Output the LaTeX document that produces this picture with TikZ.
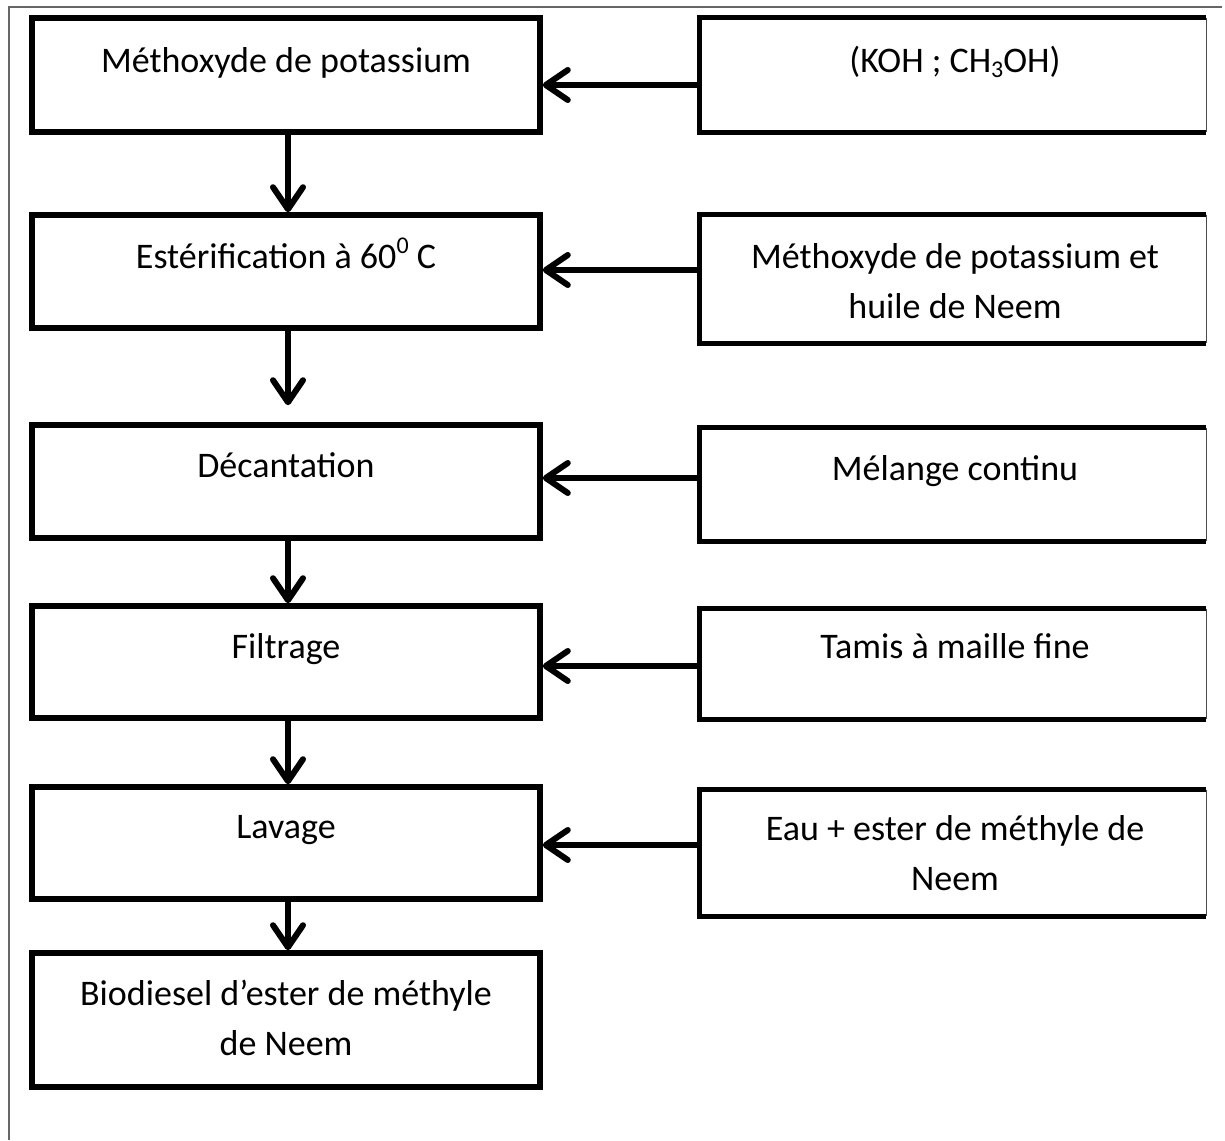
\documentclass[tikz,border=0pt]{standalone}
\usepackage{fontspec}
\setmainfont{Carlito}
\usetikzlibrary{arrows.meta,fit,calc}
\newcommand{\mysub}[1]{\raisebox{-0.3ex}{\fontsize{12}{12}\selectfont #1}}
\newcommand{\mysup}[1]{\raisebox{0.85ex}{\fontsize{12}{12}\selectfont #1}}
\begin{document}
\begin{tikzpicture}[x=0.5pt,y=-0.5pt,
  lbox/.style={draw=black,line width=2.8pt,inner sep=0pt,line join=miter},
  rbox/.style={draw=none,inner sep=0pt},
  thickedge/.style={draw=black,line width=2.8pt,line join=miter},
  thinedge/.style={draw=black!70,line width=0.6pt},
  txt/.style={anchor=base,align=center,font=\fontsize{18}{25}\selectfont,inner sep=0pt},
  arr/.style={line width=3pt,-{Straight Barb[length=11pt,width=15pt,round]}}]
\useasboundingbox (0,0) rectangle (1225,1140);
\fill[white] (0,0) rectangle (1225,1140);
% outer frame
\draw[black!60,line width=0.6pt] (9,1140) -- (9,7) -- (1222,7);
% left boxes
\node[lbox,fit={(32,18)(540,132)}] (L1) {};
\node[lbox,fit={(32,215)(540,328)}] (L2) {};
\node[lbox,fit={(32,425)(540,538)}] (L3) {};
\node[lbox,fit={(32,606)(540,718)}] (L4) {};
\node[lbox,fit={(32,787)(540,899)}] (L5) {};
\node[lbox,fit={(32,953)(540,1087)}] (L6) {};
% right boxes
\node[rbox,fit={(700,18)(1206,132)}] (R1) {};
\node[rbox,fit={(700,215)(1206,343)}] (R2) {};
\node[rbox,fit={(700,428)(1206,541)}] (R3) {};
\node[rbox,fit={(700,609)(1206,719)}] (R4) {};
\node[rbox,fit={(700,790)(1206,916)}] (R5) {};
\foreach \r in {R1,R2,R3,R4,R5}{
  \draw[thickedge] (\r.north east) -- (\r.north west) -- (\r.south west) -- (\r.south east);
  \draw[thinedge] (\r.north east) -- (\r.south east);
}
% texts (base = last line)
\node[txt] (L1t) at (286,72) {Méthoxyde de potassium};
\node[txt] (L2t) at (286,268) {Estérification à 60\mysup{0} C};
\node[txt] (L3t) at (286,477) {Décantation};
\node[txt] (L4t) at (286,658) {Filtrage};
\node[txt] (L5t) at (286,838) {Lavage};
\node[txt] (L6t) at (286,1055) {Biodiesel d’ester de méthyle\\de Neem};
\node[txt] (R1t) at (955,72) {(KOH ; CH\mysub{3}OH)};
\node[txt] (R2t) at (955,318) {Méthoxyde de potassium et\\huile de Neem};
\node[txt] (R3t) at (955,480) {Mélange continu};
\node[txt] (R4t) at (955,658) {Tamis à maille fine};
\node[txt] (R5t) at (955,890) {Eau + ester de méthyle de\\Neem};
% vertical arrows
\coordinate (vx) at (288,0);
\draw[arr] (L1.south -| vx) -- (L2.north -| vx);
\draw[arr,shorten >=8.5pt] (L2.south -| vx) -- (L3.north -| vx);
\draw[arr] (L3.south -| vx) -- (L4.north -| vx);
\draw[arr] (L4.south -| vx) -- (L5.north -| vx);
\draw[arr] (L5.south -| vx) -- (L6.north -| vx);
% horizontal arrows
\coordinate (h1) at (0,85);
\coordinate (h2) at (0,270);
\coordinate (h3) at (0,478);
\coordinate (h4) at (0,666);
\coordinate (h5) at (0,845);
\draw[arr] (R1.west |- h1) -- (L1.east |- h1);
\draw[arr] (R2.west |- h2) -- (L2.east |- h2);
\draw[arr] (R3.west |- h3) -- (L3.east |- h3);
\draw[arr] (R4.west |- h4) -- (L4.east |- h4);
\draw[arr] (R5.west |- h5) -- (L5.east |- h5);
\end{tikzpicture}
\end{document}
